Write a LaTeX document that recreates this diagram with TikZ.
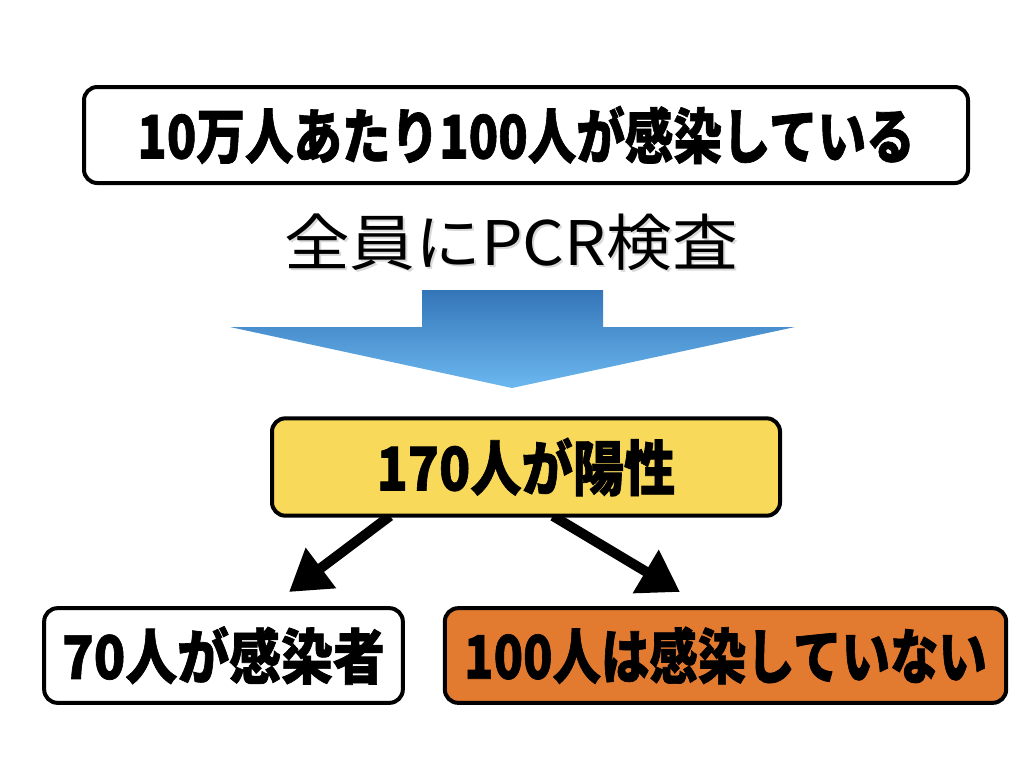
\documentclass[tikz,border=0pt]{standalone}
\usepackage{fontspec}
\usepackage{graphicx}
\usetikzlibrary{arrows.meta}
\newfontfamily\jpf{Noto Sans CJK JP}[BoldFeatures={FakeBold=1.2}]
\definecolor{boxyellow}{RGB}{248,217,90}
\definecolor{boxorange}{RGB}{226,122,48}
\definecolor{arrtop}{RGB}{52,117,184}
\definecolor{arrbot}{RGB}{108,184,240}
\newcommand\bigbold[2]{\resizebox{#1}{\height}{\jpf\bfseries\fontsize{45pt}{45pt}\selectfont #2}}
\begin{document}
\begin{tikzpicture}[x=0.75pt,y=-0.75pt,
  box/.style={draw=black,line width=3pt,rounded corners=10pt,inner sep=0pt,fill=white},
  conn/.style={line width=7.5pt,-{Triangle[length=30pt,width=36pt]}}]
\useasboundingbox (0,0) rectangle (1024,768);
% top box
\node[box,minimum width=663pt,minimum height=72pt] (top) at (526,135) {\bigbold{583pt}{10万人あたり100人が感染している}};
% title
\node[text=black!15,inner sep=0pt] (pcrsh) at (513,244) {\resizebox{340pt}{\height}{\jpf\fontsize{46pt}{46pt}\selectfont 全員にPCR検査}};
\node[inner sep=0pt] (pcr) at (511,242) {\resizebox{340pt}{\height}{\jpf\fontsize{46pt}{46pt}\selectfont 全員にPCR検査}};
% big arrow
\shade[top color=arrtop,bottom color=arrbot] (422,290) -- (603,290) -- (603,327) -- (795,327) -- (512,388) -- (230,327) -- (422,327) -- cycle;
% connectors
\coordinate (la) at (390,516);
\coordinate (lb) at (289,592);
\coordinate (ra) at (553,516);
\coordinate (rb) at (680,592);
\draw[conn] (la) -- (lb);
\draw[conn] (ra) -- (rb);
% yellow box
\node[box,fill=boxyellow,minimum width=381pt,minimum height=73pt] (pos) at (526,467) {\bigbold{224pt}{170人が陽性}};
% bottom boxes
\node[box,minimum width=269pt,minimum height=71pt] (inf) at (223.5,655.5) {\bigbold{242pt}{70人が感染者}};
\node[box,fill=boxorange,minimum width=421pt,minimum height=71pt] (neg) at (725.5,655.5) {\bigbold{392pt}{100人は感染していない}};
\end{tikzpicture}
\end{document}
